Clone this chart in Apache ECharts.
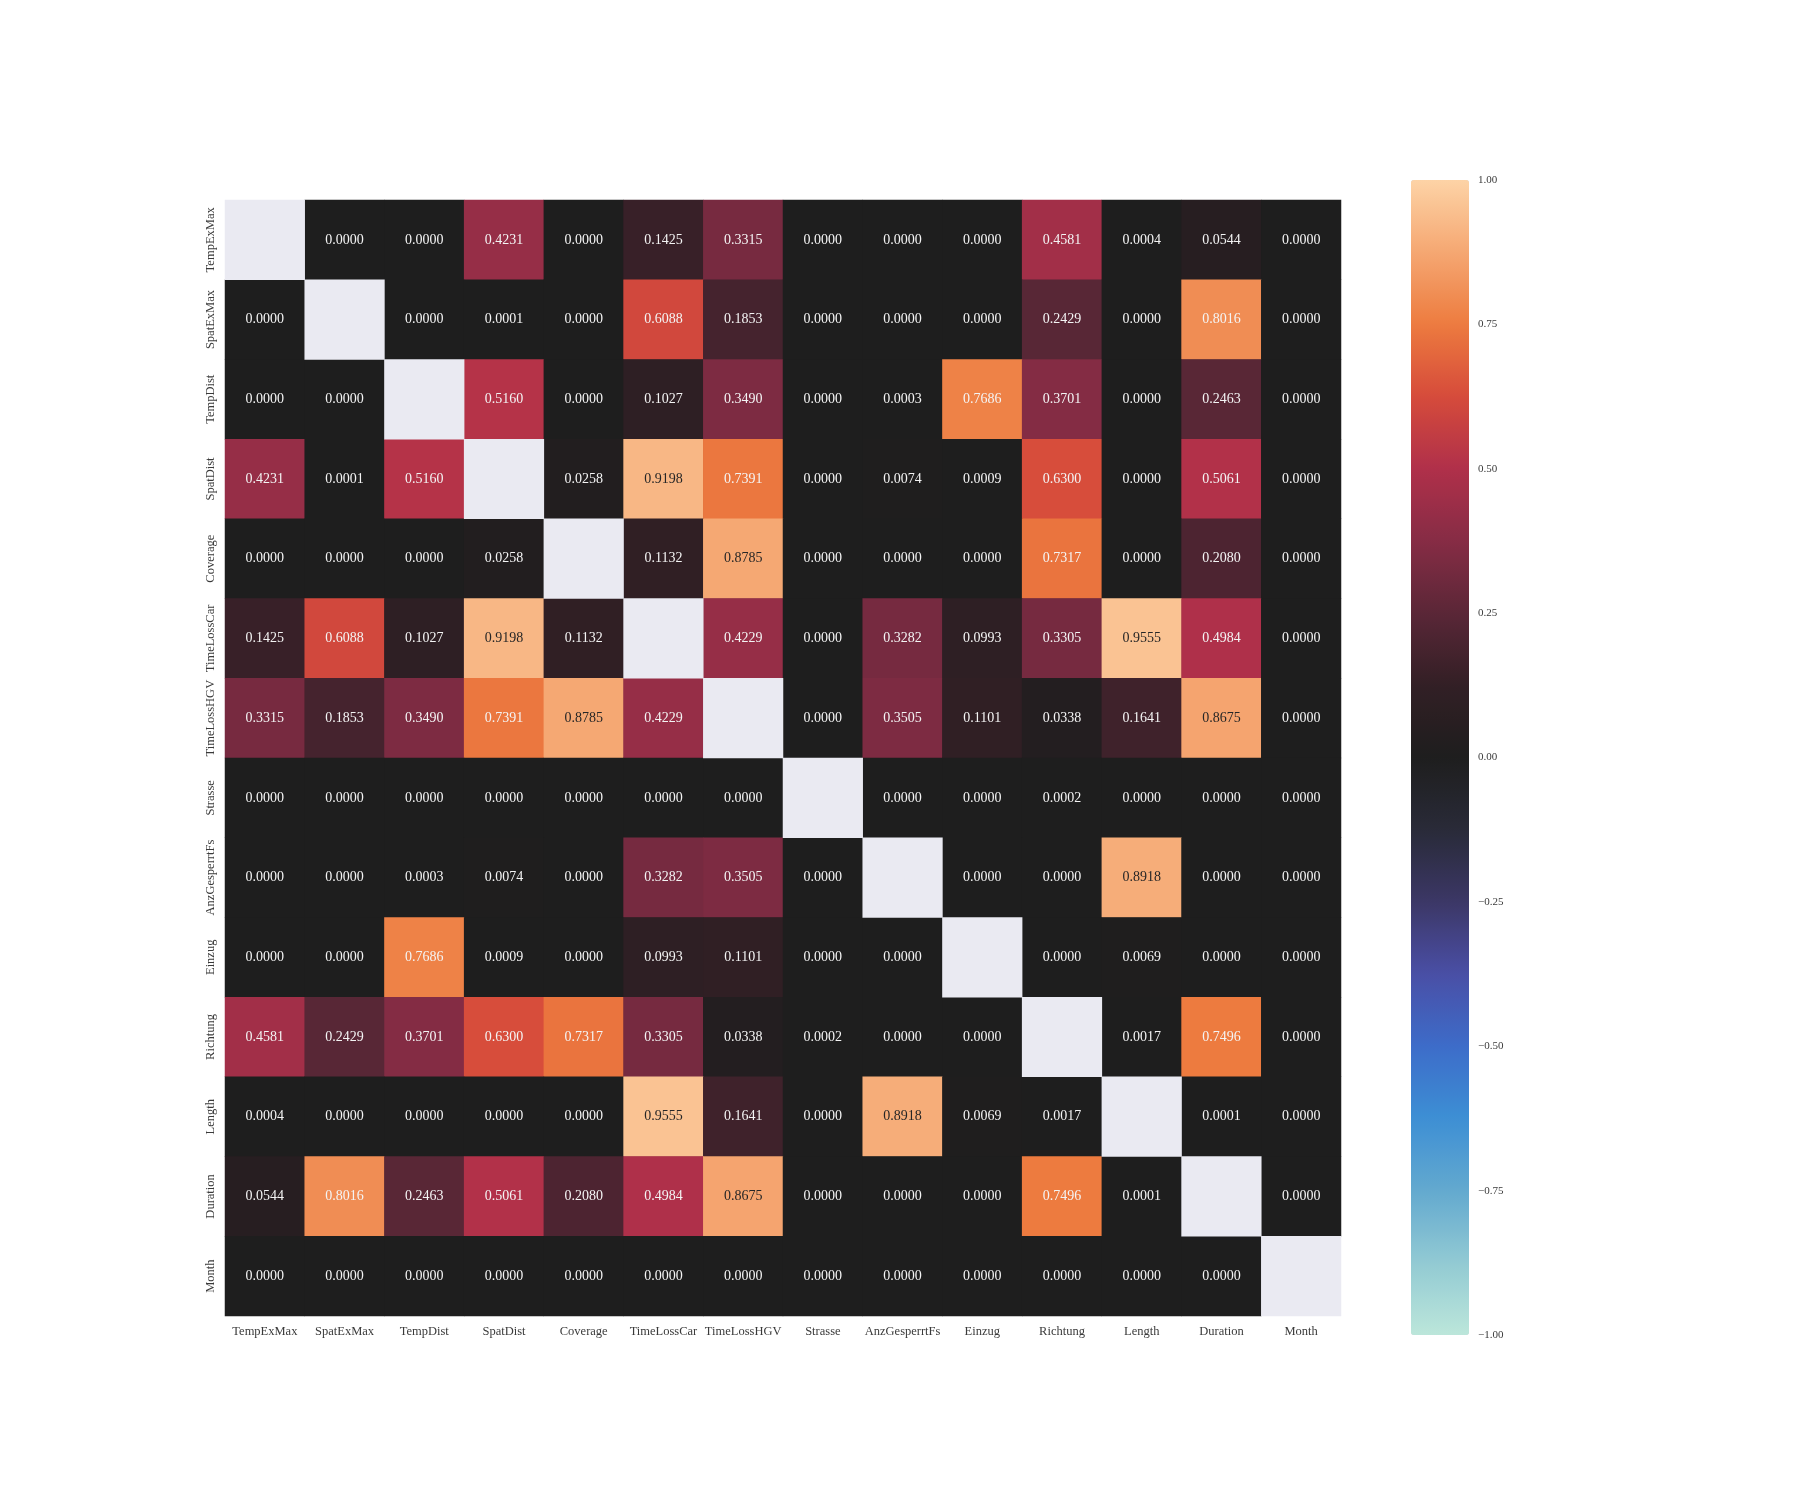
<!DOCTYPE html>
<html>
<head>
<meta charset="utf-8">
<script src="https://cdn.jsdelivr.net/npm/echarts@6/dist/echarts.min.js"></script>
<style>
  html, body { margin: 0; padding: 0; background: #fff; }
  #chart { width: 1800px; height: 1500px; }
</style>
</head>
<body>
<div id="chart"></div>
<script>
const labels = ['TempExMax', 'SpatExMax', 'TempDist', 'SpatDist', 'Coverage', 'TimeLossCar', 'TimeLossHGV',
  'Strasse', 'AnzGesperrtFs', 'Einzug', 'Richtung', 'Length', 'Duration', 'Month']

// null = masked diagonal
const corr = [
  [null, 0, 0, 0.4231, 0, 0.1425, 0.3315, 0, 0, 0, 0.4581, 0.0004, 0.0544, 0],
  [0, null, 0, 0.0001, 0, 0.6088, 0.1853, 0, 0, 0, 0.2429, 0, 0.8016, 0],
  [0, 0, null, 0.5160, 0, 0.1027, 0.3490, 0, 0.0003, 0.7686, 0.3701, 0, 0.2463, 0],
  [0.4231, 0.0001, 0.5160, null, 0.0258, 0.9198, 0.7391, 0, 0.0074, 0.0009, 0.6300, 0, 0.5061, 0],
  [0, 0, 0, 0.0258, null, 0.1132, 0.8785, 0, 0, 0, 0.7317, 0, 0.2080, 0],
  [0.1425, 0.6088, 0.1027, 0.9198, 0.1132, null, 0.4229, 0, 0.3282, 0.0993, 0.3305, 0.9555, 0.4984, 0],
  [0.3315, 0.1853, 0.3490, 0.7391, 0.8785, 0.4229, null, 0, 0.3505, 0.1101, 0.0338, 0.1641, 0.8675, 0],
  [0, 0, 0, 0, 0, 0, 0, null, 0, 0, 0.0002, 0, 0, 0],
  [0, 0, 0.0003, 0.0074, 0, 0.3282, 0.3505, 0, null, 0, 0, 0.8918, 0, 0],
  [0, 0, 0.7686, 0.0009, 0, 0.0993, 0.1101, 0, 0, null, 0, 0.0069, 0, 0],
  [0.4581, 0.2429, 0.3701, 0.6300, 0.7317, 0.3305, 0.0338, 0.0002, 0, 0, null, 0.0017, 0.7496, 0],
  [0.0004, 0, 0, 0, 0, 0.9555, 0.1641, 0, 0.8918, 0.0069, 0.0017, null, 0.0001, 0],
  [0.0544, 0.8016, 0.2463, 0.5061, 0.2080, 0.4984, 0.8675, 0, 0, 0, 0.7496, 0.0001, null, 0],
  [0, 0, 0, 0, 0, 0, 0, 0, 0, 0, 0, 0, 0, null]
]

// icefire-like diverging palette, -1 .. 1
const icefire = ['#bce6da', '#92cad3', '#63a9cf', '#3d8fd4', '#3d6cc9', '#4a4fa6', '#3c3766', '#292a38', '#1e1e1e',
  '#321f25', '#5a2737', '#862c45', '#b0304a', '#d64b3b', '#ed7b3f', '#f5a772', '#fdd3a6']

const font = 'Liberation Serif'

const data = []
const masked = []
corr.forEach((row, i) => {
  row.forEach((v, j) => {
    if (v === null) {
      masked.push([j, i, 0])
      return
    }
    data.push({
      value: [j, i, v],
      label: { color: v > 0.83 ? '#262626' : '#f4f4f4' }
    })
  })
})

const chart = echarts.init(document.getElementById('chart'))
const option = {
  backgroundColor: '#ffffff',
  animation: false,
  grid: [
    { left: 225, top: 200, width: 1116, height: 1116, show: true, backgroundColor: '#1e1e1e', borderWidth: 0 },
    { left: 1411, top: 180, width: 58, height: 1155, show: false }
  ],
  xAxis: [
    {
      type: 'category',
      data: labels,
      gridIndex: 0,
      axisLine: { show: false },
      axisTick: { show: false },
      splitLine: { show: false },
      axisLabel: { interval: 0, margin: 9, fontFamily: font, fontSize: 12.5, color: '#3a3a3a' }
    },
    { type: 'value', gridIndex: 1, show: false, min: 0, max: 1 }
  ],
  yAxis: [
    {
      type: 'category',
      data: labels,
      gridIndex: 0,
      inverse: true,
      axisLine: { show: false },
      axisTick: { show: false },
      splitLine: { show: false },
      axisLabel: { interval: 0, rotate: 90, margin: 8, fontFamily: font, fontSize: 12.5, color: '#3a3a3a' }
    },
    {
      type: 'value',
      gridIndex: 1,
      position: 'right',
      min: -1,
      max: 1,
      interval: 0.25,
      axisLine: { show: false },
      axisTick: { show: false },
      splitLine: { show: false },
      axisLabel: {
        margin: 9,
        fontFamily: font,
        fontSize: 11,
        color: '#3a3a3a',
        formatter: v => v.toFixed(2).replace('-', '\u2212')
      }
    }
  ],
  visualMap: {
    type: 'continuous',
    min: -1,
    max: 1,
    seriesIndex: 0,
    calculable: false,
    orient: 'vertical',
    left: 1411,
    top: 180,
    padding: 0,
    itemWidth: 58,
    itemHeight: 1155,
    text: null,
    showLabel: false,
    inRange: { color: icefire }
  },
  series: [
    {
      type: 'heatmap',
      xAxisIndex: 0,
      yAxisIndex: 0,
      data: data,
      label: {
        show: true,
        fontFamily: font,
        fontSize: 14,
        formatter: p => p.value[2].toFixed(4)
      },
      itemStyle: { borderWidth: 0 },
      emphasis: { disabled: true }
    },
    {
      type: 'heatmap',
      xAxisIndex: 0,
      yAxisIndex: 0,
      data: masked,
      itemStyle: { color: '#eaeaf2', borderWidth: 0 },
      label: { show: false },
      emphasis: { disabled: true },
      silent: true
    },
    { type: 'line', xAxisIndex: 1, yAxisIndex: 1, data: [], silent: true }
  ]
}
chart.setOption(option)
window.addEventListener('resize', () => {
  chart.resize()
})
</script>
</body>
</html>
